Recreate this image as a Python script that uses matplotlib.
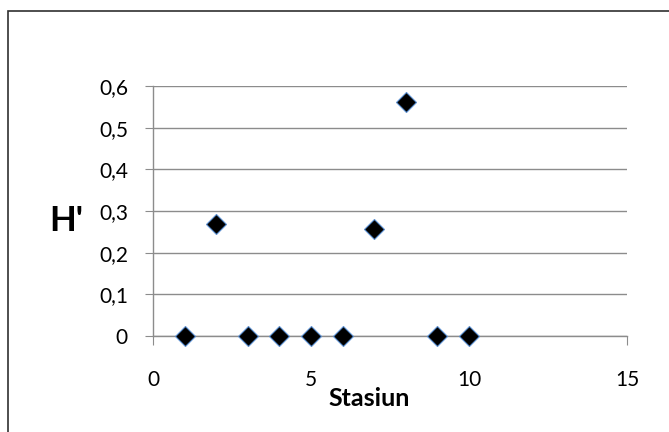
import matplotlib.pyplot as plt
from matplotlib.patches import Rectangle

# Data
stasiun = [1, 2, 3, 4, 5, 6, 7, 8, 9, 10]
h_index = [0, 0.27, 0, 0, 0, 0, 0.257, 0.562, 0, 0]

x_ticks = [0, 5, 10, 15]
y_ticks = [0, 0.1, 0.2, 0.3, 0.4, 0.5, 0.6]
y_labels = ['0', '0,1', '0,2', '0,3', '0,4', '0,5', '0,6']

plt.rcParams['font.family'] = ['Lato', 'DejaVu Sans']

fig = plt.figure(figsize=(6.69, 4.32), dpi=100)
ax = fig.add_axes([153/669, 1-336/432, (627-153)/669, (336-86)/432])

# chart border (Excel chart area)
fig.patches.append(Rectangle((8/669, -0.1), 1.2, 1.1 - 11/432,
                             transform=fig.transFigure, fill=False,
                             edgecolor='#303030', linewidth=1.2))

ax.plot(stasiun, h_index, linestyle='none', marker='D', markersize=10,
        markerfacecolor='black', markeredgecolor='#5b8fd0',
        markeredgewidth=0.8, clip_on=False, zorder=5)

ax.set_xlim(0, 15)
ax.set_ylim(0, 0.6)
ax.set_xticks(x_ticks)
ax.set_xticklabels([str(t) for t in x_ticks])
ax.set_yticks(y_ticks)
ax.set_yticklabels(y_labels)

ax.grid(True, axis='y', color='#8c8c8c', linewidth=1.0)
ax.set_axisbelow(True)
for s in ['top', 'right']:
    ax.spines[s].set_visible(False)
for s in ['left', 'bottom']:
    ax.spines[s].set_color('#8c8c8c')
    ax.spines[s].set_linewidth(1.0)

ax.tick_params(axis='y', length=6, color='#8c8c8c', labelsize=15, pad=12)
ax.tick_params(axis='x', length=6.5, color='#8c8c8c', labelsize=15, pad=18)

fig.text(66/669, 1-221/432, "H'", fontsize=25, fontweight='bold',
         ha='center', va='center')
fig.text(369/669, 1-399/432, 'Stasiun', fontsize=18, fontweight='bold',
         ha='center', va='center')

fig.savefig('out.png', dpi=100)
